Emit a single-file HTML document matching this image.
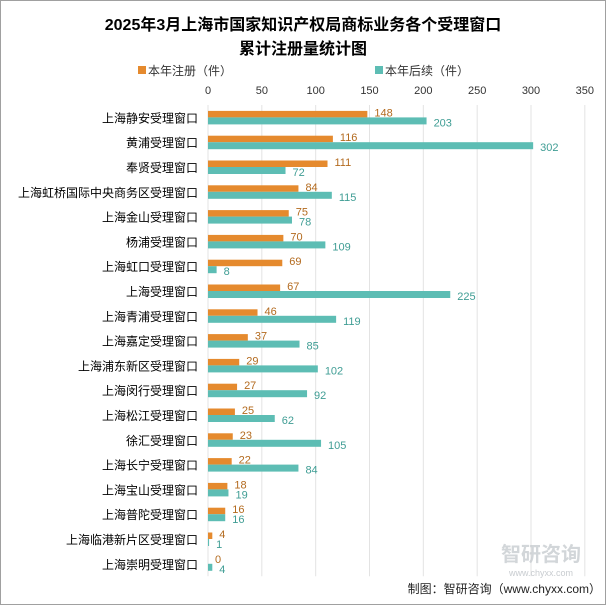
<!DOCTYPE html>
<html><head><meta charset="utf-8"><style>
body{margin:0;background:#fff;}
#c{position:relative;width:604px;height:603px;border:1px solid #a0a0a0;overflow:hidden;font-family:"Liberation Sans","Noto Sans CJK SC",sans-serif;}
svg text{font-family:"Liberation Sans","Noto Sans CJK SC",sans-serif;}
</style></head><body>
<div id="c">
<svg id="s" width="604" height="603">
<text x="302" y="29" text-anchor="middle" font-size="16" font-weight="bold" fill="#000">2025年3月上海市国家知识产权局商标业务各个受理窗口</text>
<text x="302" y="53" text-anchor="middle" font-size="16" font-weight="bold" fill="#000">累计注册量统计图</text>
<g>
<rect x="137" y="65" width="8" height="8" fill="#e58a2e"/>
<text x="147" y="74" font-size="12" fill="#333">本年注册（件）</text>
<rect x="374" y="65" width="8" height="8" fill="#5dbdb4"/>
<text x="384" y="74" font-size="12" fill="#333">本年后续（件）</text>
</g>
<g id="plot"></g>
<text x="600" y="592" text-anchor="end" font-size="12" fill="#222">制图：智研咨询（www.chyxx.com）</text>
<text x="540" y="560" text-anchor="middle" font-size="20" font-weight="bold" fill="#c8ccd0" opacity="0.8">智研咨询</text>
<text x="540" y="575" text-anchor="middle" font-size="9" fill="#c8ccd0">www.chyxx.com</text>
</svg></div>
<script>
const categories=["上海静安受理窗口","黄浦受理窗口","奉贤受理窗口","上海虹桥国际中央商务区受理窗口","上海金山受理窗口","杨浦受理窗口","上海虹口受理窗口","上海受理窗口","上海青浦受理窗口","上海嘉定受理窗口","上海浦东新区受理窗口","上海闵行受理窗口","上海松江受理窗口","徐汇受理窗口","上海长宁受理窗口","上海宝山受理窗口","上海普陀受理窗口","上海临港新片区受理窗口","上海崇明受理窗口"];
const registered=[148,116,111,84,75,70,69,67,46,37,29,27,25,23,22,18,16,4,0];
const renewal=[203,302,72,115,78,109,8,225,119,85,102,92,62,105,84,19,16,1,4];
const ticks=[0,50,100,150,200,250,300,350];
const NS="http://www.w3.org/2000/svg";
const g=document.getElementById('plot');
const x0=207,k=323/300,plotTop=104,pitch=24.8;
const xs=v=>x0+v*k;
const yc=i=>plotTop+pitch*(i+0.5);
function mk(t,a){const e=document.createElementNS(NS,t);for(const n in a)e.setAttribute(n,a[n]);g.appendChild(e);return e;}
ticks.forEach(t=>{
 const l=mk('line',{x1:xs(t),x2:xs(t),y1:plotTop,y2:plotTop+pitch*categories.length,stroke:'#e3e3e3','stroke-width':1});
 
 
 const tx=mk('text',{x:xs(t),y:93,'text-anchor':'middle','font-size':11,fill:'#333'});
 tx.textContent=t;
 
 
});
categories.forEach((c,i)=>{
 const y=yc(i);
 const lb=mk('text',{x:197,y:y+5,'text-anchor':'end','font-size':12,fill:'#000'});
 lb.textContent=c;
 
 
 const b1=mk('rect',{x:x0,y:y-6.5,width:Math.max(0,xs(registered[i])-x0),height:6.5,fill:'#e58a2e'});
 
 
 const b2=mk('rect',{x:x0,y:y,width:Math.max(0,xs(renewal[i])-x0),height:7,fill:'#5dbdb4'});
 
 
 const t1=mk('text',{x:xs(registered[i])+7,y:y-1,'font-size':11,fill:'#b36a1e'});
 t1.textContent=registered[i];
 
 
 const t2=mk('text',{x:xs(renewal[i])+7,y:y+9,'font-size':11,fill:'#3f9d94'});
 t2.textContent=renewal[i];
 
 
});
</script>
</body></html>
